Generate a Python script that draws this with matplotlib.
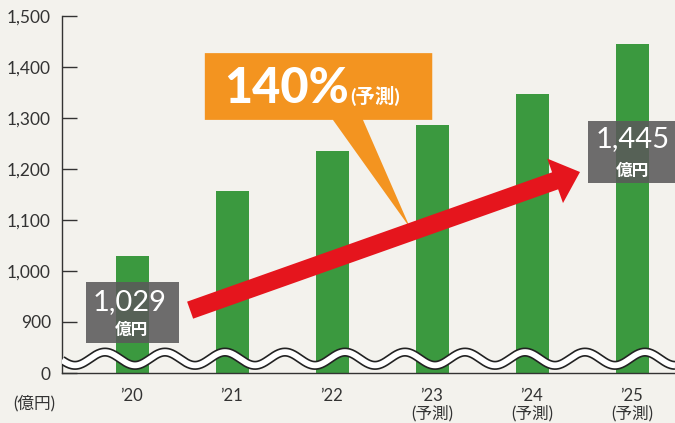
import numpy as np
import matplotlib
matplotlib.use("Agg")
import matplotlib.pyplot as plt
from matplotlib.patches import Rectangle, Polygon, FancyArrowPatch

plt.rcParams['font.family'] = ['Lato', 'Noto Sans CJK JP', 'DejaVu Sans']

# data (億円)
years = ["’20", "’21", "’22", "’23\n(予測)", "’24\n(予測)", "’25\n(予測)"]
sales = [1029, 1157, 1236, 1287, 1348, 1445]
yticks = [800, 900, 1000, 1100, 1200, 1300, 1400, 1500]
ytick_labels = ["0", "900", "1,000", "1,100", "1,200", "1,300", "1,400", "1,500"]

bg = "#f3f2ed"
green = "#3b993f"
gray = "#5a5a5a"
orange = "#f39420"
red = "#e5151d"

fig = plt.figure(figsize=(6.75, 4.23), dpi=100, facecolor=bg)
ax = fig.add_axes([62 / 675, 50 / 423, 613 / 675, 357 / 423])
ax.set_facecolor(bg)

x = np.arange(len(years))
ax.bar(x, sales, width=0.33, color=green, zorder=2)

ax.set_xlim(-0.7, 5.43)
ax.set_ylim(800, 1500)
ax.set_yticks(yticks)
ax.set_yticklabels(ytick_labels)
ax.set_xticks(x)
ax.set_xticklabels(years, linespacing=1.05)

ax.tick_params(axis='y', direction='in', length=11, width=1, pad=8,
               labelsize=12.5, color="#333333", labelcolor="#333333")
ax.tick_params(axis='x', length=0, pad=11, labelsize=12, labelcolor="#333333")
for s in ['top', 'right']:
    ax.spines[s].set_visible(False)
for s in ['left', 'bottom']:
    ax.spines[s].set_color("#333333")
    ax.spines[s].set_linewidth(1)

# wavy break line over the bars
wx = np.linspace(-0.7, 5.43, 800)
wy = 828 + 13 * np.cos(2 * np.pi * (wx + 0.27) / 0.6)
ax.plot(wx, wy, color="#222222", lw=6.6, zorder=3, solid_capstyle='butt')
ax.plot(wx, wy, color="white", lw=4.2, zorder=4, solid_capstyle='butt')

fig.text(34 / 675, 1 - 403 / 423, "(億円)", ha='center', va='center',
         fontsize=12, color="#333333")

# value boxes
ax.add_patch(Rectangle((0.039, 0.084), 0.152, 0.171, transform=ax.transAxes,
                       facecolor=gray, alpha=0.88, edgecolor='none', zorder=5))
ax.text(0.111, 0.199, f"{sales[0]:,}", transform=ax.transAxes, ha='center',
        va='center', fontsize=21, color='white', zorder=6)
ax.text(0.114, 0.120, "億円", transform=ax.transAxes, ha='center', va='center',
        fontsize=12, fontweight='bold', color='white', zorder=6)

ax.add_patch(Rectangle((0.858, 0.532), 0.142, 0.174, transform=ax.transAxes,
                       facecolor=gray, alpha=0.88, edgecolor='none', zorder=5,
                       clip_on=False))
ax.text(0.931, 0.655, f"{sales[-1]:,}", transform=ax.transAxes, ha='center',
        va='center', fontsize=21, color='white', zorder=6)
ax.text(0.931, 0.566, "億円", transform=ax.transAxes, ha='center', va='center',
        fontsize=12, fontweight='bold', color='white', zorder=6)

# orange callout
callout = Polygon([(0.233, 0.709), (0.442, 0.709), (0.568, 0.406), (0.491, 0.709),
                   (0.604, 0.709), (0.604, 0.896), (0.233, 0.896)],
                  closed=True, transform=ax.transAxes, facecolor=orange,
                  edgecolor='none', zorder=6)
ax.add_patch(callout)
ratio = round(sales[-1] / sales[0] * 100)
ax.text(0.265, 0.756, f"{ratio}%", transform=ax.transAxes, ha='left',
        va='baseline', fontsize=35, fontweight='black', color='white', zorder=7)
ax.text(0.470, 0.756, "(予測)", transform=ax.transAxes, ha='left', va='baseline',
        fontsize=14, fontweight='bold', color='white', zorder=7)

# red growth arrow
arrow = FancyArrowPatch((0.209, 0.176), (0.845, 0.563), transform=ax.transAxes,
                        arrowstyle="simple,head_length=19,head_width=34,tail_width=13",
                        mutation_scale=1, shrinkA=0, shrinkB=0,
                        facecolor=red, edgecolor='none', zorder=8)
ax.add_patch(arrow)

fig.savefig("out.png", dpi=100, facecolor=bg)
